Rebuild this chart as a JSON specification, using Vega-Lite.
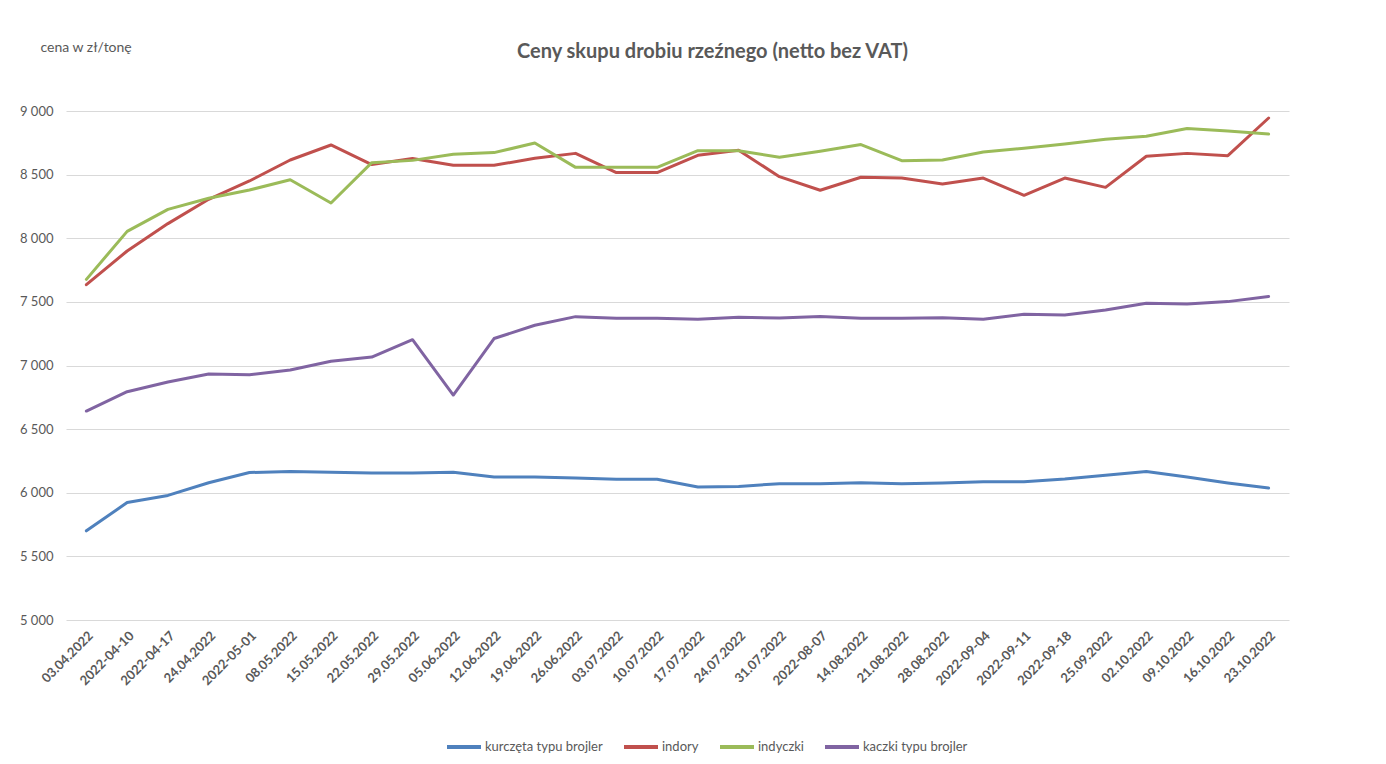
{
  "$schema": "https://vega.github.io/schema/vega-lite/v6.json",
  "autosize": "none",
  "padding": {"left": 66, "top": 111, "right": 97, "bottom": 144},
  "width": 1223,
  "height": 509,
  "background": "white",
  "config": {
    "font": "Lato",
    "view": {"stroke": null}
  },
  "title": {
    "text": "Ceny skupu drobiu rzeźnego (netto bez VAT)",
    "fontSize": 20,
    "fontWeight": "bold",
    "color": "#595959",
    "anchor": "middle",
    "dx": 35,
    "offset": -22
  },
  "data": {
    "values": [
      {"tydzien": "03.04.2022", "kurczęta typu brojler": 5701, "indory": 7635, "indyczki": 7677, "kaczki typu brojler": 6642},
      {"tydzien": "2022-04-10", "kurczęta typu brojler": 5923, "indory": 7900, "indyczki": 8054, "kaczki typu brojler": 6794},
      {"tydzien": "2022-04-17", "kurczęta typu brojler": 5979, "indory": 8115, "indyczki": 8227, "kaczki typu brojler": 6870},
      {"tydzien": "24.04.2022", "kurczęta typu brojler": 6079, "indory": 8306, "indyczki": 8314, "kaczki typu brojler": 6933},
      {"tydzien": "2022-05-01", "kurczęta typu brojler": 6159, "indory": 8450, "indyczki": 8379, "kaczki typu brojler": 6928},
      {"tydzien": "08.05.2022", "kurczęta typu brojler": 6167, "indory": 8615, "indyczki": 8460, "kaczki typu brojler": 6964},
      {"tydzien": "15.05.2022", "kurczęta typu brojler": 6161, "indory": 8733, "indyczki": 8277, "kaczki typu brojler": 7033},
      {"tydzien": "22.05.2022", "kurczęta typu brojler": 6156, "indory": 8579, "indyczki": 8594, "kaczki typu brojler": 7066},
      {"tydzien": "29.05.2022", "kurczęta typu brojler": 6156, "indory": 8626, "indyczki": 8612, "kaczki typu brojler": 7203},
      {"tydzien": "05.06.2022", "kurczęta typu brojler": 6161, "indory": 8573, "indyczki": 8660, "kaczki typu brojler": 6768},
      {"tydzien": "12.06.2022", "kurczęta typu brojler": 6124, "indory": 8573, "indyczki": 8673, "kaczki typu brojler": 7212},
      {"tydzien": "19.06.2022", "kurczęta typu brojler": 6124, "indory": 8628, "indyczki": 8748, "kaczki typu brojler": 7316},
      {"tydzien": "26.06.2022", "kurczęta typu brojler": 6116, "indory": 8667, "indyczki": 8557, "kaczki typu brojler": 7384},
      {"tydzien": "03.07.2022", "kurczęta typu brojler": 6106, "indory": 8516, "indyczki": 8557, "kaczki typu brojler": 7371},
      {"tydzien": "10.07.2022", "kurczęta typu brojler": 6106, "indory": 8516, "indyczki": 8557, "kaczki typu brojler": 7371},
      {"tydzien": "17.07.2022", "kurczęta typu brojler": 6045, "indory": 8652, "indyczki": 8688, "kaczki typu brojler": 7363},
      {"tydzien": "24.07.2022", "kurczęta typu brojler": 6050, "indory": 8691, "indyczki": 8688, "kaczki typu brojler": 7379},
      {"tydzien": "31.07.2022", "kurczęta typu brojler": 6071, "indory": 8484, "indyczki": 8636, "kaczki typu brojler": 7373},
      {"tydzien": "2022-08-07", "kurczęta typu brojler": 6071, "indory": 8377, "indyczki": 8683, "kaczki typu brojler": 7386},
      {"tydzien": "14.08.2022", "kurczęta typu brojler": 6079, "indory": 8479, "indyczki": 8736, "kaczki typu brojler": 7371},
      {"tydzien": "21.08.2022", "kurczęta typu brojler": 6071, "indory": 8473, "indyczki": 8610, "kaczki typu brojler": 7371},
      {"tydzien": "28.08.2022", "kurczęta typu brojler": 6077, "indory": 8426, "indyczki": 8615, "kaczki typu brojler": 7376},
      {"tydzien": "2022-09-04", "kurczęta typu brojler": 6087, "indory": 8473, "indyczki": 8678, "kaczki typu brojler": 7363},
      {"tydzien": "2022-09-11", "kurczęta typu brojler": 6087, "indory": 8337, "indyczki": 8707, "kaczki typu brojler": 7402},
      {"tydzien": "2022-09-18", "kurczęta typu brojler": 6108, "indory": 8473, "indyczki": 8741, "kaczki typu brojler": 7397},
      {"tydzien": "25.09.2022", "kurczęta typu brojler": 6138, "indory": 8400, "indyczki": 8778, "kaczki typu brojler": 7436},
      {"tydzien": "02.10.2022", "kurczęta typu brojler": 6167, "indory": 8644, "indyczki": 8801, "kaczki typu brojler": 7489},
      {"tydzien": "09.10.2022", "kurczęta typu brojler": 6124, "indory": 8667, "indyczki": 8862, "kaczki typu brojler": 7483},
      {"tydzien": "16.10.2022", "kurczęta typu brojler": 6077, "indory": 8649, "indyczki": 8843, "kaczki typu brojler": 7502},
      {"tydzien": "23.10.2022", "kurczęta typu brojler": 6037, "indory": 8945, "indyczki": 8819, "kaczki typu brojler": 7543}
    ]
  },
  "transform": [
    {"fold": ["kurczęta typu brojler", "indory", "indyczki", "kaczki typu brojler"], "as": ["seria", "cena"]}
  ],
  "mark": {"type": "line", "strokeWidth": 3, "strokeJoin": "round", "strokeCap": "round"},
  "encoding": {
    "x": {
      "field": "tydzien",
      "type": "nominal",
      "sort": null,
      "scale": {"type": "point", "padding": 0.5},
      "axis": {
        "title": null,
        "labelAngle": -45,
        "labelFontWeight": "bold",
        "labelFontSize": 13,
        "labelColor": "#595959",
        "labelPadding": 9,
        "ticks": false,
        "domain": false,
        "grid": false
      }
    },
    "y": {
      "field": "cena",
      "type": "quantitative",
      "scale": {"domain": [5000, 9000], "nice": false, "zero": false},
      "axis": {
        "values": [5000, 5500, 6000, 6500, 7000, 7500, 8000, 8500, 9000],
        "labelExpr": "replace(format(datum.value, ','), ',', ' ')",
        "labelFontSize": 13,
        "labelColor": "#595959",
        "labelPadding": 13,
        "ticks": false,
        "domain": false,
        "grid": true,
        "gridColor": "#d9d9d9",
        "gridWidth": 1,
        "title": "cena w zł/tonę",
        "titleAngle": 0,
        "titleAlign": "left",
        "titleBaseline": "middle",
        "titleX": -26,
        "titleY": -64,
        "titleFontSize": 14,
        "titleFontWeight": "normal",
        "titleColor": "#595959"
      }
    },
    "color": {
      "field": "seria",
      "type": "nominal",
      "scale": {
        "domain": ["kurczęta typu brojler", "indory", "indyczki", "kaczki typu brojler"],
        "range": ["#4F81BD", "#C0504D", "#9BBB59", "#8064A2"]
      },
      "legend": {
        "title": null,
        "orient": "none",
        "direction": "horizontal",
        "legendX": 379,
        "legendY": 617,
        "symbolType": "stroke",
        "symbolSize": 1156,
        "symbolStrokeWidth": 4,
        "labelFontSize": 13,
        "labelColor": "#595959",
        "labelOffset": 2,
        "columnPadding": 13
      }
    }
  }
}
